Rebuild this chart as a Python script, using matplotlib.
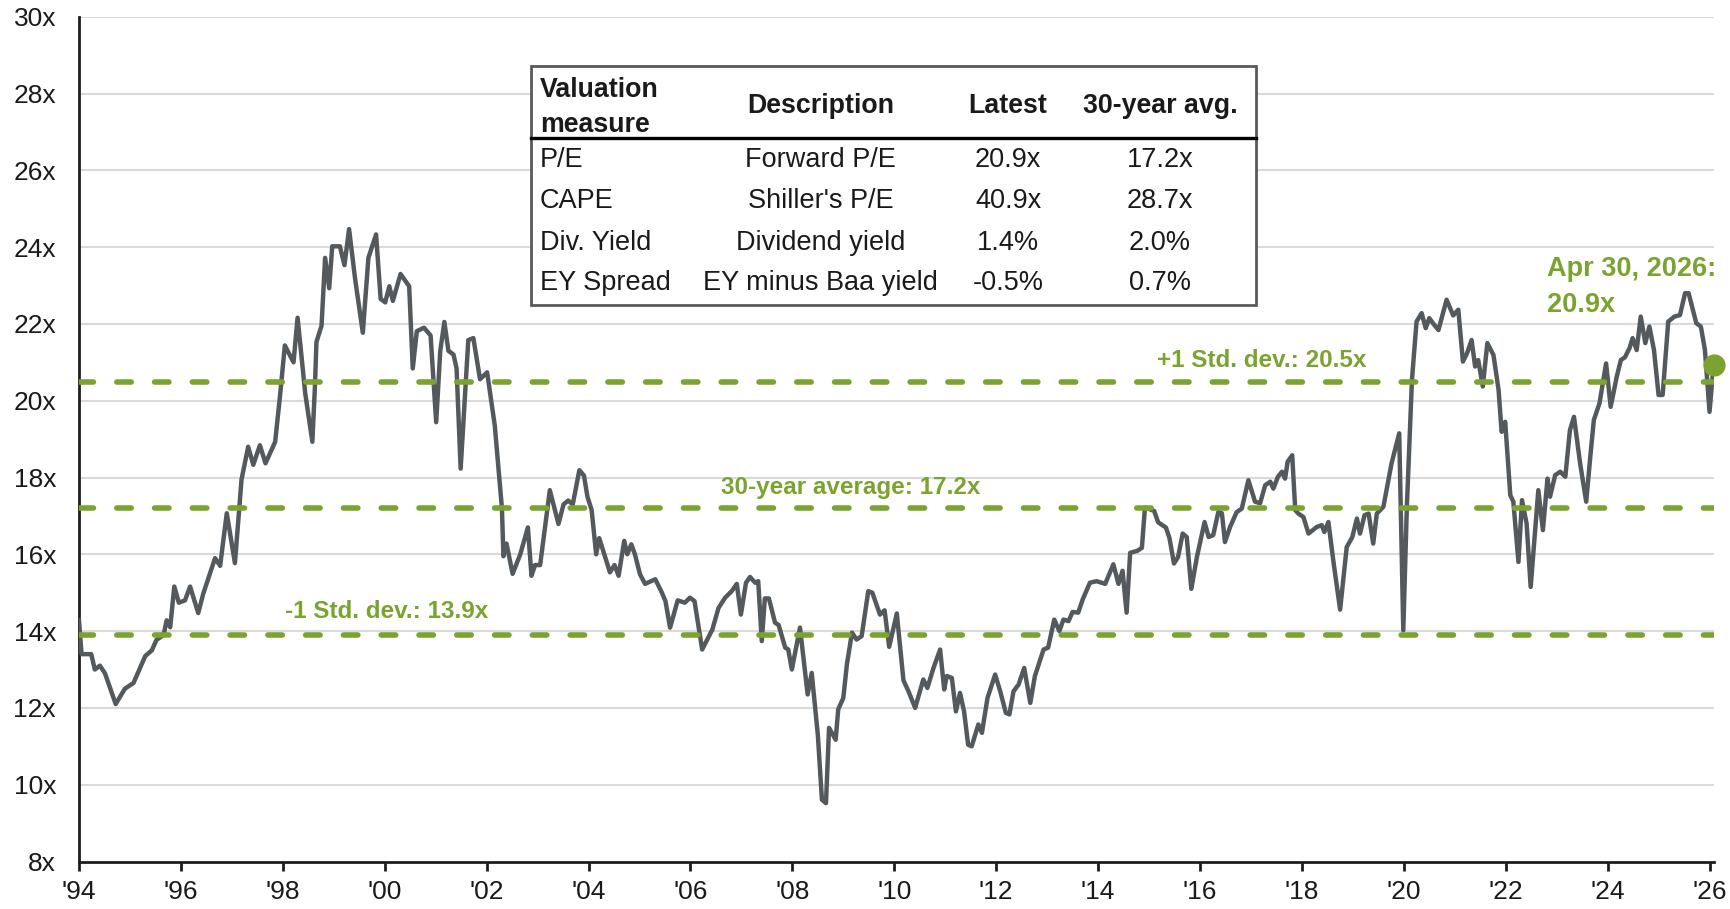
import matplotlib
matplotlib.use("Agg")
import matplotlib.pyplot as plt
from matplotlib.patches import Rectangle
from matplotlib.lines import Line2D

plt.rcParams['font.family'] = ['Liberation Sans', 'DejaVu Sans']

# ---------------- data ----------------
dates = [
    1994.00, 1994.05, 1994.24, 1994.31, 1994.41, 1994.51, 1994.72, 1994.90, 1995.07, 1995.30,
    1995.43, 1995.52, 1995.66, 1995.72, 1995.79, 1995.87, 1995.96, 1996.08, 1996.18, 1996.34,
    1996.44, 1996.67, 1996.77, 1996.90, 1997.06, 1997.19, 1997.32, 1997.42, 1997.55, 1997.66,
    1997.85, 1997.95, 1998.04, 1998.21, 1998.29, 1998.44, 1998.58, 1998.63, 1998.66, 1998.76,
    1998.83, 1998.91, 1998.97, 1999.12, 1999.21, 1999.30,
    1999.42, 1999.57, 1999.68, 1999.83, 1999.92, 2000.01, 2000.09, 2000.16, 2000.31, 2000.48,
    2000.55, 2000.63, 2000.77, 2000.90, 2001.01, 2001.09, 2001.17, 2001.25, 2001.35, 2001.41,
    2001.49, 2001.64, 2001.74, 2001.87, 2002.01, 2002.16, 2002.30, 2002.33, 2002.39, 2002.51,
    2002.66, 2002.81, 2002.88, 2002.95, 2003.05, 2003.24, 2003.41, 2003.51, 2003.60, 2003.69,
    2003.82, 2003.91, 2003.98, 2004.06, 2004.15, 2004.21, 2004.42, 2004.51, 2004.59, 2004.70,
    2004.76, 2004.84, 2004.91,
    2005.01, 2005.11, 2005.31, 2005.44, 2005.51, 2005.60, 2005.75, 2005.89, 2005.99, 2006.08,
    2006.23, 2006.43, 2006.55, 2006.68, 2006.81, 2006.91, 2006.99, 2007.09, 2007.17, 2007.27,
    2007.33, 2007.40, 2007.46, 2007.54, 2007.66, 2007.73, 2007.86, 2007.92, 2007.99, 2008.15,
    2008.30, 2008.38, 2008.50, 2008.58, 2008.66, 2008.72, 2008.85, 2008.90, 2009.00, 2009.07,
    2009.17, 2009.26, 2009.36, 2009.49, 2009.57, 2009.72, 2009.81, 2009.90, 2010.05, 2010.18,
    2010.28, 2010.41, 2010.57, 2010.65, 2010.77, 2010.90, 2010.98, 2011.03, 2011.13, 2011.21,
    2011.29, 2011.37, 2011.45, 2011.52, 2011.65, 2011.72, 2011.83, 2011.98, 2012.08, 2012.19,
    2012.26, 2012.34, 2012.44, 2012.55, 2012.67, 2012.76, 2012.93, 2013.02, 2013.14, 2013.24,
    2013.32, 2013.42, 2013.50, 2013.61, 2013.70, 2013.84, 2013.97, 2014.14, 2014.30, 2014.40,
    2014.48, 2014.56, 2014.63, 2014.77, 2014.86, 2014.92, 2015.10, 2015.18, 2015.33, 2015.40,
    2015.49, 2015.57, 2015.66, 2015.74, 2015.83, 2015.94, 2016.09, 2016.17, 2016.26, 2016.36,
    2016.43, 2016.49, 2016.59, 2016.72, 2016.82, 2016.95, 2017.08, 2017.18, 2017.28, 2017.38,
    2017.44, 2017.53, 2017.61, 2017.67, 2017.72, 2017.81, 2017.87, 2017.93, 2018.03, 2018.13,
    2018.29, 2018.39, 2018.44, 2018.52, 2018.62, 2018.75, 2018.88, 2018.99, 2019.08, 2019.14,
    2019.23, 2019.31, 2019.40, 2019.47, 2019.60, 2019.76, 2019.91, 2019.99, 2020.06, 2020.16,
    2020.25, 2020.35, 2020.43, 2020.50, 2020.60, 2020.68, 2020.75, 2020.84, 2020.97, 2021.07,
    2021.16, 2021.24, 2021.33, 2021.40, 2021.46, 2021.55, 2021.64, 2021.76, 2021.86, 2021.92,
    2021.99, 2022.09, 2022.15, 2022.25, 2022.32, 2022.41, 2022.49, 2022.64, 2022.73, 2022.82,
    2022.87, 2022.97, 2023.07, 2023.17, 2023.26, 2023.34, 2023.46, 2023.58, 2023.66, 2023.73,
    2023.84, 2023.97, 2024.06, 2024.18, 2024.26, 2024.34, 2024.43, 2024.49, 2024.57, 2024.65,
    2024.74, 2024.82, 2024.91, 2025.00, 2025.08, 2025.19, 2025.31, 2025.42, 2025.52, 2025.59,
    2025.74, 2025.83, 2025.91, 2026.00, 2026.08,
]
forward_pe = [
    14.28, 13.40, 13.40, 13.00, 13.10, 12.90, 12.10, 12.50, 12.65, 13.35,
    13.50, 13.77, 13.90, 14.28, 14.10, 15.16, 14.74, 14.80, 15.16, 14.47,
    14.98, 15.90, 15.70, 17.07, 15.77, 17.95, 18.80, 18.33, 18.84, 18.37,
    18.93, 20.19, 21.44, 21.00, 22.16, 20.19, 18.93, 20.37, 21.53, 21.95,
    23.72, 22.93, 24.02, 24.02, 23.53, 24.47,
    23.16, 21.77, 23.72, 24.33, 22.65, 22.56, 22.98, 22.60, 23.30, 22.98,
    20.84, 21.81, 21.90, 21.70, 19.44, 21.30, 22.05, 21.30, 21.20, 20.84,
    18.23, 21.58, 21.63, 20.56, 20.74, 19.35, 17.20, 15.95, 16.28, 15.49,
    16.00, 16.70, 15.44, 15.72, 15.72, 17.67, 16.79, 17.30, 17.40, 17.30,
    18.19, 18.05, 17.49, 17.16, 16.00, 16.42, 15.53, 15.72, 15.44, 16.35,
    16.00, 16.26, 16.00,
    15.48, 15.23, 15.35, 15.00, 14.78, 14.09, 14.80, 14.74, 14.87, 14.78,
    13.52, 14.04, 14.60, 14.87, 15.04, 15.23, 14.43, 15.26, 15.41, 15.26,
    15.30, 13.74, 14.85, 14.85, 14.22, 14.16, 13.57, 13.52, 13.00, 14.09,
    12.35, 12.91, 11.30, 9.61, 9.52, 11.48, 11.17, 11.96, 12.26, 13.13,
    13.96, 13.78, 13.87, 15.04, 15.00, 14.43, 14.54, 13.59, 14.46, 12.72,
    12.43, 12.00, 12.74, 12.52, 13.04, 13.52, 12.48, 12.83, 12.78, 11.91,
    12.39, 11.91, 11.04, 11.00, 11.57, 11.35, 12.26, 12.87, 12.43, 11.87,
    11.83, 12.43, 12.61, 13.04, 12.13, 12.83, 13.52, 13.57, 14.30, 14.00,
    14.30, 14.26, 14.50, 14.48, 14.83, 15.26, 15.30, 15.23, 15.74, 15.23,
    15.57, 14.48, 16.04, 16.09, 16.17, 17.22, 17.13, 16.83, 16.70, 16.43,
    15.76, 15.93, 16.54, 16.45, 15.10, 15.93, 16.84, 16.45, 16.50, 17.10,
    17.07, 16.32, 16.71, 17.10, 17.19, 17.93, 17.37, 17.33, 17.80, 17.89,
    17.71, 18.02, 18.15, 17.97, 18.41, 18.58, 17.15, 17.06, 16.97, 16.54,
    16.71, 16.76, 16.58, 16.84, 15.80, 14.56, 16.19, 16.45, 16.93, 16.54,
    17.02, 17.06, 16.28, 17.06, 17.24, 18.37, 19.15, 14.02, 17.24, 20.54,
    22.06, 22.28, 21.89, 22.15, 21.97, 21.84, 22.19, 22.63, 22.22, 22.37,
    21.02, 21.23, 21.58, 20.89, 21.06, 20.37, 21.50, 21.19, 20.28, 19.19,
    19.45, 17.54, 17.37, 15.80, 17.41, 16.80, 15.15, 17.67, 16.63, 17.97,
    17.50, 18.06, 18.15, 18.02, 19.23, 19.58, 18.37, 17.37, 18.54, 19.50,
    19.93, 20.97, 19.84, 20.63, 21.06, 21.13, 21.37, 21.63, 21.32, 22.19,
    21.50, 21.93, 21.32, 20.15, 20.15, 22.06, 22.19, 22.23, 22.80, 22.80,
    22.02, 21.93, 21.32, 19.71, 20.93,
]

avg_30yr = 17.2
std_plus = 20.5
std_minus = 13.9
latest_label = "Apr 30, 2026:\n20.9x"

x_tick_years = list(range(1994, 2027, 2))
x_tick_labels = ["'%02d" % (y % 100) for y in x_tick_years]
y_ticks = list(range(8, 31, 2))
y_tick_labels = ["%dx" % v for v in y_ticks]

table_headers = ["Description", "Latest", "30-year avg."]
table_header_first = ["Valuation", "measure"]
table_measures = ["P/E", "CAPE", "Div. Yield", "EY Spread"]
table_desc = ["Forward P/E", "Shiller's P/E", "Dividend yield", "EY minus Baa yield"]
table_latest = ["20.9x", "40.9x", "1.4%", "-0.5%"]
table_avg = ["17.2x", "28.7x", "2.0%", "0.7%"]

# ---------------- styling ----------------
GREEN = '#7BA32F'
LINE = '#54595D'
TXT = '#1A1A1A'
GRID = '#DADADA'

W, H = 1730, 909
fig = plt.figure(figsize=(W / 100, H / 100), dpi=100)

def fx(px):
    return px / W

def fy(py):
    return 1 - py / H

ax = fig.add_axes([fx(79), fy(861.5), (1713.6 - 79) / W, (861.5 - 16.7) / H])
ax.set_xlim(1994, 2026.08)
ax.set_ylim(8, 30)

for v in y_ticks[1:]:
    ax.axhline(v, color=GRID, lw=1.5, zorder=1)

ax.plot(dates, forward_pe, color=LINE, lw=3.2, zorder=3, solid_joinstyle='round')

for v in (std_plus, avg_30yr, std_minus):
    ax.axhline(v, color=GREEN, lw=4, linestyle=(0, (2.6, 4.2)),
               dash_capstyle='round', zorder=4)

ax.plot([dates[-1]], [forward_pe[-1]], 'o', color=GREEN, ms=15, zorder=6, clip_on=False)

# annotations
ax.text(2017.22, 20.89, "+1 Std. dev.: %.1fx" % std_plus, color=GREEN, fontsize=17.5,
        fontweight='bold', ha='center', va='baseline', zorder=5)
ax.text(2009.15, 17.56, "30-year average: %.1fx" % avg_30yr, color=GREEN, fontsize=17.5,
        fontweight='bold', ha='center', va='baseline', zorder=5)
ax.text(2000.04, 14.33, "-1 Std. dev.: %.1fx" % std_minus, color=GREEN, fontsize=17.5,
        fontweight='bold', ha='center', va='baseline', zorder=5)
ax.text(2022.81, 22.32, latest_label, color=GREEN, fontsize=19.5, fontweight='bold',
        ha='left', va='baseline', linespacing=1.46, zorder=5)

# axes styling
for s in ('top', 'right'):
    ax.spines[s].set_visible(False)
for s in ('left', 'bottom'):
    ax.spines[s].set_color('#1E1E1E')
    ax.spines[s].set_linewidth(2)
ax.set_xticks(x_tick_years)
ax.set_xticklabels(x_tick_labels)
ax.set_yticks(y_ticks)
ax.set_yticklabels(y_tick_labels)
ax.tick_params(axis='x', length=6.3, width=2, color='#1E1E1E', pad=7,
               labelsize=19, labelcolor=TXT)
ax.tick_params(axis='y', length=0, pad=16.5, labelsize=19, labelcolor=TXT)

# ---------------- table ----------------
box = Rectangle((fx(530.5), fy(304.5)), (1256 - 530.5) / W, (304.5 - 65.5) / H,
                transform=fig.transFigure, facecolor='white', edgecolor='#5A5A5A',
                lw=2, zorder=10)
fig.patches.append(box)
fig.lines.append(Line2D([fx(531), fx(1255.5)], [fy(138.3), fy(138.3)],
                        transform=fig.transFigure, color='black', lw=2.4, zorder=11))

col1_x = 539.8
col_centers = [820.5, 1008, 1160]
tfs = 19.5
hfs = 19.3
fig.text(fx(col1_x), fy(96.7), table_header_first[0], fontsize=hfs, fontweight='bold',
         ha='left', va='baseline', color=TXT, zorder=12)
fig.text(fx(col1_x), fy(131.7), table_header_first[1], fontsize=hfs, fontweight='bold',
         ha='left', va='baseline', color=TXT, zorder=12)
for cx, h in zip(col_centers, table_headers):
    fig.text(fx(cx), fy(113.3), h, fontsize=hfs, fontweight='bold', ha='center',
             va='baseline', color=TXT, zorder=12)

row_baselines = [166.7, 208.3, 249.5, 290.5]
for i, yb in enumerate(row_baselines):
    fig.text(fx(col1_x), fy(yb), table_measures[i], fontsize=tfs, ha='left',
             va='baseline', color=TXT, zorder=12)
    for cx, col in zip(col_centers, (table_desc, table_latest, table_avg)):
        fig.text(fx(cx), fy(yb), col[i], fontsize=tfs, ha='center', va='baseline',
                 color=TXT, zorder=12)

fig.savefig('out.png', dpi=100, facecolor='white')
